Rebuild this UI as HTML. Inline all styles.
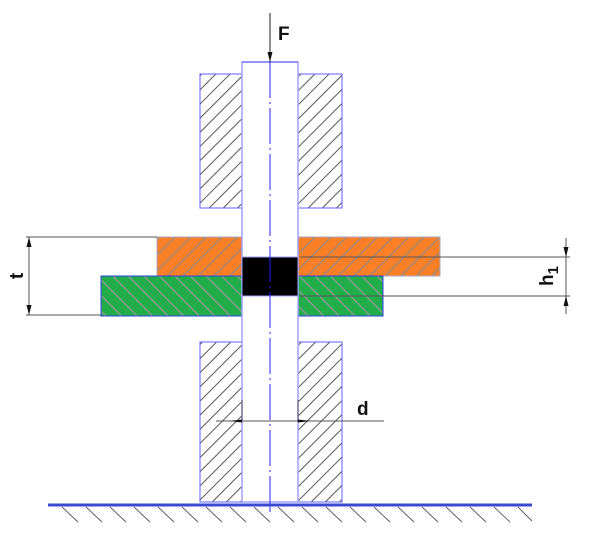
<!DOCTYPE html>
<html><head><style>html,body{margin:0;padding:0;background:#fff}svg{display:block}</style></head><body>
<svg width="600" height="534" viewBox="0 0 600 534" xmlns="http://www.w3.org/2000/svg" font-family="Liberation Sans, sans-serif">
<defs>
<pattern id="hd" patternUnits="userSpaceOnUse" width="10" height="10" patternTransform="rotate(45)">
<rect width="10" height="10" fill="#fff"/><line x1="5" y1="0" x2="5" y2="10" stroke="#444" stroke-width="0.9"/></pattern>
<pattern id="ho" patternUnits="userSpaceOnUse" width="11" height="11" patternTransform="rotate(45)">
<rect width="11" height="11" fill="#fb7f26"/><line x1="5.5" y1="0" x2="5.5" y2="11" stroke="#8a8a8a" stroke-width="1.2"/></pattern>
<pattern id="hg" patternUnits="userSpaceOnUse" width="11" height="11" patternTransform="rotate(-45)">
<rect width="11" height="11" fill="#22ad4b"/><line x1="5.5" y1="0" x2="5.5" y2="11" stroke="#9a9a9a" stroke-width="1.2"/></pattern>
</defs>
<g stroke="#6060ff" stroke-width="1">
<rect x="200" y="74" width="42" height="134" fill="url(#hd)"/>
<rect x="298" y="74" width="44" height="134" fill="url(#hd)"/>
<rect x="200" y="342" width="42" height="160" fill="url(#hd)"/>
<rect x="298" y="342" width="44" height="160" fill="url(#hd)"/>
<rect x="157" y="237" width="85" height="39" fill="url(#ho)" stroke="#aab"/>
<rect x="298" y="237" width="142" height="39" fill="url(#ho)" stroke="#aab"/>
<rect x="101" y="276" width="141" height="40" fill="url(#hg)" stroke="#3040e0"/>
<rect x="298" y="276" width="85" height="40" fill="url(#hg)" stroke="#3040e0"/>
<rect x="242" y="62" width="56" height="440" fill="none" stroke="#a0a0ff" stroke-width="1.5"/>
<rect x="242" y="257" width="56" height="39" fill="#000" stroke="#a0a0ff"/>
</g>
<line x1="242" y1="62" x2="298" y2="62" stroke="#8080ff" stroke-width="1.5"/>
<line x1="270" y1="62" x2="270" y2="515" stroke="#2020ff" stroke-width="1" stroke-dasharray="36,4,2,4"/>
<g stroke="#555" stroke-width="0.9">
<line x1="62" y1="507" x2="78" y2="522"/><line x1="86" y1="507" x2="102" y2="522"/><line x1="110" y1="507" x2="126" y2="522"/><line x1="134" y1="507" x2="150" y2="522"/><line x1="158" y1="507" x2="174" y2="522"/><line x1="182" y1="507" x2="198" y2="522"/><line x1="206" y1="507" x2="222" y2="522"/><line x1="230" y1="507" x2="246" y2="522"/><line x1="254" y1="507" x2="270" y2="522"/><line x1="278" y1="507" x2="294" y2="522"/><line x1="302" y1="507" x2="318" y2="522"/><line x1="326" y1="507" x2="342" y2="522"/><line x1="350" y1="507" x2="366" y2="522"/><line x1="374" y1="507" x2="390" y2="522"/><line x1="398" y1="507" x2="414" y2="522"/><line x1="422" y1="507" x2="438" y2="522"/><line x1="446" y1="507" x2="462" y2="522"/><line x1="470" y1="507" x2="486" y2="522"/><line x1="494" y1="507" x2="510" y2="522"/><line x1="518" y1="507" x2="532" y2="521"/>
</g>
<line x1="48" y1="505" x2="532" y2="505" stroke="#3a4ad0" stroke-width="3"/>
<g stroke="#555" stroke-width="1">
<line x1="300" y1="257" x2="570" y2="257"/>
<line x1="300" y1="296" x2="570" y2="296"/>
<line x1="566" y1="238" x2="566" y2="314"/>
<line x1="26" y1="237" x2="157" y2="237"/>
<line x1="26" y1="315" x2="101" y2="315"/>
<line x1="29" y1="237" x2="29" y2="315"/>
<line x1="216" y1="421" x2="384" y2="421"/>
<line x1="242" y1="400" x2="242" y2="421"/>
<line x1="298" y1="400" x2="298" y2="421"/>
<line x1="270" y1="13" x2="270" y2="62" stroke="#222"/>
</g>
<g fill="#111">
<polygon points="270,62 267.5,52 272.5,52"/>
<polygon points="29,237 26.5,247 31.5,247"/>
<polygon points="29,315 26.5,305 31.5,305"/>
<polygon points="566,257 563.5,247 568.5,247"/>
<polygon points="566,296 563.5,306 568.5,306"/>
<polygon points="229,421 242,419.5 242,422.5"/>
<polygon points="311,421 298,419.5 298,422.5"/>
</g>
<g font-weight="bold" font-size="19" fill="#111">
<text x="278" y="40">F</text>
<text x="357" y="415">d</text>
<text transform="translate(23,276) rotate(-90)" text-anchor="middle">t</text>
<text transform="translate(553,276) rotate(-90)" text-anchor="middle">h<tspan font-size="15" dy="5">1</tspan></text>
</g>
</svg>
</body></html>
